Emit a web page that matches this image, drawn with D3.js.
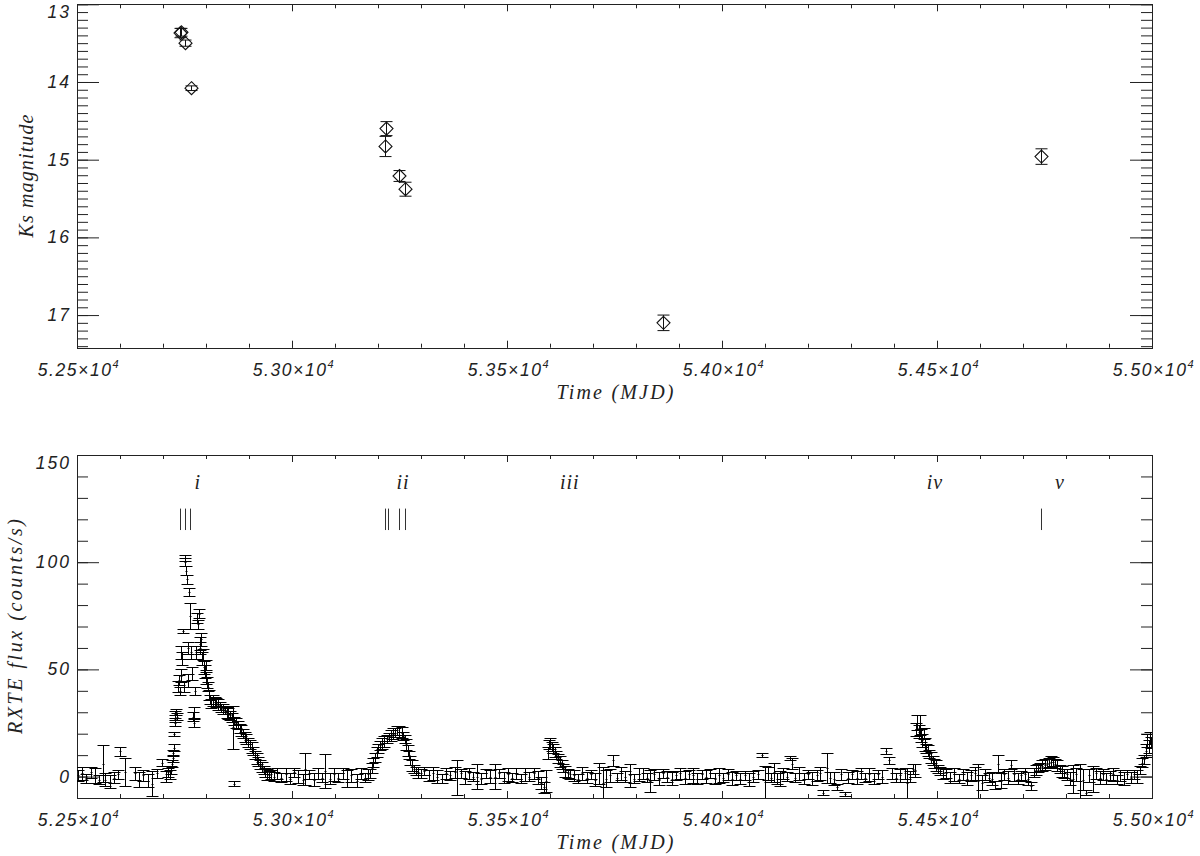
<!DOCTYPE html>
<html><head><meta charset="utf-8">
<script src="https://cdn.jsdelivr.net/npm/d3@7"></script>
<style>body{margin:0;background:#fff}svg{display:block}</style>
</head><body>
<svg id="c" width="1200" height="856"></svg>
<script>
// ---------------- data ----------------
const xDomain = [52500, 55000];
const xMajorTicks = [52500, 53000, 53500, 54000, 54500, 55000];
const xTickMantissa = ["5.25", "5.30", "5.35", "5.40", "5.45", "5.50"];
const xTickExponent = "4";

const ksDomain = [13, 17.42];
const ksMajorTicks = [13, 14, 15, 16, 17];
const fluxDomain = [-10, 150];
const fluxMajorTicks = [0, 50, 100, 150];

// Ks photometry (top panel)
const ksMjd = [52739, 52742, 52751, 52764, 53218, 53216, 53249, 53262, 53863, 54741];
const ksMag = [13.37, 13.36, 13.50, 14.08, 14.60, 14.83, 15.21, 15.38, 17.10, 14.96];
const ksErr = [0.06, 0.05, 0.04, 0.03, 0.09, 0.13, 0.07, 0.09, 0.10, 0.10];

// epochs of the IR observations marked in the lower panel
const epochMjd = [52740, 52750, 52763, 53216, 53224, 53249, 53263, 54741];
const epochFluxRange = [115, 125];

// outburst labels
const outburstNames = ["i", "ii", "iii", "iv", "v"];
const outburstMjd = [52781, 53258, 53646, 54495, 54786];
const outburstLabelFlux = 134;

// RXTE/ASM light curve (lower panel)
const rxteMjd = [
  // quiescence before outburst i
  52502,52512,52522,52532,52542,52552,52560,52566,52576,52586,52596,52600,52612,52634,52644,52654,52664,52674,52686,52698,52706,52712,
  // outburst i rise and peak
  52716,52719,52721,52723,52724,52725,52726,52727,52728,52729,52731,52733,52735,52737,52739,52741,52743,52745,52747,52749,
  52751,52752,52754,52755,52757,52759,52761,52763,52765,52767,52769,52771,52773,52775,52777,52779,52781,52783,52785,52787,
  52789,52791,52793,52795,52797,52799,52801,52803,52805,52807,52809,
  // outburst i decline
  52812,52816,52820,52824,52828,52832,52836,52840,52844,52848,52852,52856,52860,52862,52865,52866,52870,52874,52878,52882,
  52886,52890,52894,52898,52902,52906,52910,52914,52918,52922,52926,52930,52934,52938,52942,52947,52952,52958,
  // quiescence
  52965,52975,52985,52995,53005,53015,53025,53030,53040,53050,53060,53070,53077,53088,53098,53108,53118,53128,53138,53151,53160,53170,53177,
  // outburst ii
  53181,53185,53189,53193,53197,53201,53205,53210,53215,53220,53225,53230,53235,53240,53245,53250,53255,53259,53263,53266,
  53269,53272,53275,53279,53283,53288,53294,53300,
  // quiescence
  53308,53318,53328,53338,53348,53358,53368,53378,53384,53392,53402,53412,53422,53430,53440,53450,53460,53472,53482,53492,
  53502,53512,53522,53532,53542,53552,53562,53572,53580,53585,53590,
  // outburst iii
  53595,53598,53601,53604,53607,53611,53615,53619,53623,53627,53631,53636,53641,53647,
  // quiescence
  53655,53665,53675,53685,53695,53705,53713,53723,53730,53740,53747,53755,53765,53775,53786,53796,53806,53816,53826,53833,
  53843,53853,53863,53873,53883,53893,53903,53913,53923,53933,53943,53953,53963,53973,53983,53993,54003,54013,54023,54033,
  54043,54053,54063,54073,54083,
  54093,54100,54106,54113,54120,54128,54135,54142,54150,54158,54163,54170,54180,54190,54200,54210,54220,54228,54235,54244,
  54252,54260,54267,54276,54286,54293,54303,54313,54323,54333,54343,54353,54363,54373,54381,54388,54395,54405,54415,54425,
  54430,54438,54444,
  // outburst iv
  54448,54451,54454,54457,54460,54463,54466,54469,54472,54475,54478,54482,54486,54490,54494,54498,54503,54508,54514,
  // quiescence
  54522,54530,54540,54550,54560,54570,54580,54588,54596,54604,54612,54620,54628,54636,54642,54648,54656,54664,54672,54680,
  54688,54696,54704,54712,54718,
  // outburst v
  54725,54730,54735,54740,54745,54750,54755,54760,54765,54770,54775,54780,54785,54790,54795,
  // quiescence
  54803,54810,54816,54824,54833,54840,54847,54854,54862,54870,54878,54886,54894,54902,54910,54918,54926,54934,54942,54950,
  54958,54965,
  // final rise
  54972,54977,54982,54986,54989,54992,54995,54998
];
const rxteFlux = [
  0.5,1.5,-1,2,0.5,-1.5,6,-1.5,-2.5,-0.5,1,11.7,2.3,1.5,-1.5,0.5,-2,-3.3,1.5,6.5,0,2,
  1,3,6,8.5,11,13.5,20,25,29,27,30,28,42,45,40,47,58,55,68,42,
  100,102,96,92,60,45,86,75,58,48,28,25,30,40,58,74,71,76,62,60,
  64,55,57,51,49,52,46,44,42,38,36,
  34,35.5,35,34.5,33.5,33,32,31.5,31,30,29.5,28.5,27.5,23,-3.3,26,25,24,22.5,21.5,
  20,18.5,17.5,16,15,13.5,12,10,8.5,7,5.5,4.5,3,2,1,0.5,1,0,
  1.5,-0.5,1,-1,2,0,-1.5,3.5,1,-1.5,1.5,-0.5,2.5,-1,1,-0.5,1.5,-1,0.5,-2,1.5,-0.5,1,
  1.5,4,6.5,9,11.5,13,14.5,15.5,16.5,17.5,18.5,19,20,20.5,21.5,21,20.5,19,17.5,15,
  12,10,7.5,5,3.5,2.5,2,1.5,
  2.5,0.5,1.5,0,-1,1.5,0.5,2,-0.5,1.5,-0.5,1.5,0,0,-1,1.5,0,0,1.5,-0.5,
  1,-0.5,1.5,-1,1,0,1.5,-0.5,-3,-5,-2,
  11,15,15.5,14,13,11.5,10,8.5,7,5.5,4,2.5,1.5,1,
  0.5,-1,1.5,-0.5,1,-1.5,1.5,-3,-1,0.5,7.5,-0.5,1.5,0,0.5,-1,1,1.5,-0.5,-2,
  1,-1,1.5,0,-1,0.5,1.5,-0.5,1,0.5,-1,1,0,1.5,-1,0.5,-0.5,1,-1,0.5,
  -1,0.5,-1.5,0,1,
  10,-2.5,1.5,-0.5,2,-1,-1,1.5,0,8.5,6,-0.5,1.5,-1,1,-1,0.5,1.5,-7.5,4,
  -0.5,-1,-5,1,-8,-0.5,1,-0.5,1.5,-0.5,1,-1,1,0,12,7.5,1.5,-0.5,0.5,1.5,
  -3,0,3.5,
  3,22,25,21,24,19,17,20,15,13,12,10.5,9,7.5,6,5,3.5,2.5,1.5,
  1.5,-0.5,1,-1,1,-1,0.5,1.5,-2,-3,1,-0.5,-1,-4,6,-2,1,-0.5,5.5,1,
  -1,0.5,1,-1,-4.5,
  2,3,4,4.5,5,5.5,6,6.5,7,7,6,5,3.5,2.5,1.5,
  1,-1,-1,1,-2,-1.5,-7.5,0.5,-1,1.5,-0.5,1,-1,0.5,1,-1.5,0.5,-1,1,-0.5,
  1,0,
  3,6.5,8,12,17,14,18,16
];
const rxteErr = [
  2.5,3,2,2.5,3.5,2,8.5,3,3,2.5,2,2,6.5,3,3.5,2.5,3,6,2,1.5,2.5,2,
  2,2,1.5,1.5,1.5,1.5,1,1.5,1.5,1.5,1.5,1.5,2.5,2.5,2,3,3,3,1,2.5,
  2,1.5,2,2,3,3,2,6,3,3,2,2,2.5,2,3,2.5,2,2,3,3,
  3,3,2.5,3,3,2.5,3,2.5,2,2.5,2,
  2,2.5,2,2,2.5,2,2,2.5,2,2.5,2.5,2,2,10,1,2,2.5,2,2,2.5,
  2,2.5,2.5,2,2,2.5,2,2,2.5,2,2,2.5,2,2,2.5,2,2,2,
  2.5,2,3,2.5,2,3,2.5,7.5,2,3,2.5,2,8,2.5,3,2,2.5,4,3,3,2.5,2,2.5,
  2,2.5,2,2,2.5,2,2,2.5,2.5,2,2,2.5,2.5,2,2,2.5,2.5,2,2,2.5,
  2.5,2,2,2.5,2,2,2.5,2,
  2,2.5,3,3,2,2.5,2,2.5,8,2,3,2.5,2,6,2.5,2,3,6,2,2.5,
  3,2,2.5,2,3,2,2.5,3,3,2.5,5,
  3,2,2.5,2,2,2.5,2,2,2.5,2,2,2.5,2,2,
  2.5,2,3,2.5,2,3,5,7.5,4,3,2.5,2,3,2.5,5.5,2,3,2.5,2,5,
  2.5,3,2,2.5,3,2,2.5,3,2,3.5,2.5,2,3,2,2.5,3.5,2,2.5,3,2,
  2.5,2,3,2.5,2,
  1,7.5,3,2,4.5,2.5,3.5,2.5,2,1,2.5,2,3,2.5,2,3,2.5,3,1,7,
  2.5,3,1.5,2.5,1,2.5,2,3,2.5,2,3,2.5,2,3,1.5,1.5,2.5,2,3,2.5,
  7,2.5,2.5,
  3,3,3.5,3,4.5,3,3,2.5,3,2,2.5,2,2.5,2,2,2.5,2,2,2.5,
  2,2.5,3,2,2.5,3,2.5,3,8,3.5,2.5,2,3,2,4,3.5,2.5,3,2,3,
  2.5,2,3,3,2,
  2,2.5,2,2,2.5,2.5,2,2,2.5,2,2,2.5,2,2.5,2,
  2.5,3,6.5,3,8,5,1,3,6,2.5,3,2.5,2.5,2,3,2,2.5,3,2,2.5,
  2,3,
  2,2,2,3,3,3,3,2.5
];

// ---------------- layout ----------------
const L = 77, R = 1152;
const P1 = {t: 4.3, b: 347.7};
const P2 = {t: 455, b: 798};
const ink = "#222";

const svg = d3.select("#c");
svg.append("rect").attr("width", 1200).attr("height", 856).attr("fill", "#fff");

const x = d3.scaleLinear().domain(xDomain).range([L, R]);
const yK = d3.scaleLinear().domain(ksDomain).range([P1.t, P1.b]);
const yF = d3.scaleLinear().domain(fluxDomain).range([P2.b, P2.t]);

const xMinor = d3.range(xDomain[0], xDomain[1] + 1, 100);
const ksMinor = d3.range(130, 175, 1).map(v => v / 10);
const fluxMinor = d3.range(-10, 151, 10);

const tickFont = "'Liberation Sans', Arial, sans-serif";
const titleFont = "'Liberation Serif', 'Times New Roman', serif";

function strip(g) { g.select(".domain").remove(); g.selectAll(".tick line").attr("stroke", ink); }

function frame(y, P, yMajor, yMinor) {
  const g = svg.append("g");
  g.append("g").attr("transform", `translate(0,${P.b})`).call(d3.axisBottom(x).tickValues(xMinor).tickSize(-4).tickFormat("")).call(strip);
  g.append("g").attr("transform", `translate(0,${P.b})`).call(d3.axisBottom(x).tickValues(xMajorTicks).tickSize(-7).tickFormat("")).call(strip);
  g.append("g").attr("transform", `translate(0,${P.t})`).call(d3.axisTop(x).tickValues(xMinor).tickSize(-4).tickFormat("")).call(strip);
  g.append("g").attr("transform", `translate(0,${P.t})`).call(d3.axisTop(x).tickValues(xMajorTicks).tickSize(-7).tickFormat("")).call(strip);
  g.append("g").attr("transform", `translate(${L},0)`).call(d3.axisLeft(y).tickValues(yMinor).tickSize(-11).tickFormat("")).call(strip);
  g.append("g").attr("transform", `translate(${L},0)`).call(d3.axisLeft(y).tickValues(yMajor).tickSize(-22).tickFormat("")).call(strip);
  g.append("g").attr("transform", `translate(${R},0)`).call(d3.axisRight(y).tickValues(yMinor).tickSize(-11).tickFormat("")).call(strip);
  g.append("g").attr("transform", `translate(${R},0)`).call(d3.axisRight(y).tickValues(yMajor).tickSize(-22).tickFormat("")).call(strip);
  g.append("rect").attr("x", L + 0.5).attr("y", Math.round(P.t) + 0.5)
    .attr("width", R - L).attr("height", Math.round(P.b) - Math.round(P.t))
    .attr("fill", "none").attr("stroke", ink).attr("stroke-width", 1);

  // y tick labels
  g.selectAll(".ylab").data(yMajor).join("text")
    .attr("x", L - 6)
    .attr("y", d => Math.max(y(d), P.t + 7.5))
    .attr("text-anchor", "end").attr("dominant-baseline", "central")
    .attr("font-family", tickFont).attr("font-style", "italic").attr("font-size", 17.5)
    .attr("letter-spacing", 2).attr("fill", ink)
    .text(d => d);

  // x tick labels  m.mm×10^4
  const xl = g.selectAll(".xlab").data(xMajorTicks).join("text")
    .attr("x", d => x(d) + 2).attr("y", P.b + 28)
    .attr("text-anchor", "middle")
    .attr("font-family", tickFont).attr("font-style", "italic").attr("font-size", 17.5)
    .attr("letter-spacing", 1.6).attr("fill", ink);
  xl.append("tspan").text((d, i) => xTickMantissa[i] + "\u00d710");
  xl.append("tspan").attr("dy", -8).attr("font-size", 11).text(xTickExponent);

  // x title
  g.append("text").attr("x", 615).attr("y", P.b + 51)
    .attr("text-anchor", "middle").attr("font-family", titleFont).attr("font-style", "italic")
    .attr("font-size", 20).attr("textLength", 117).attr("lengthAdjust", "spacing").attr("fill", ink)
    .text("Time (MJD)");
  return g;
}

// ---------------- top panel ----------------
frame(yK, P1, ksMajorTicks, ksMinor);
svg.append("text")
  .attr("transform", `translate(33,${(P1.t + P1.b) / 2}) rotate(-90)`)
  .attr("text-anchor", "middle").attr("font-family", titleFont).attr("font-style", "italic")
  .attr("font-size", 20).attr("textLength", 123).attr("lengthAdjust", "spacing").attr("fill", ink)
  .text("Ks magnitude");

const gK = svg.append("g");
ksMjd.forEach((m, i) => {
  const cx = Math.round(x(m)) + 0.5, cy = yK(ksMag[i]);
  const y1 = yK(ksMag[i] - ksErr[i]), y2 = yK(ksMag[i] + ksErr[i]);
  gK.append("path")
    .attr("d", `M${cx},${y1}V${y2}M${cx - 6},${y1}H${cx + 6}M${cx - 6},${y2}H${cx + 6}`)
    .attr("stroke", "#111").attr("fill", "none").attr("stroke-width", 1);
  gK.append("path")
    .attr("d", `M${cx},${cy - 6.5}L${cx + 6.5},${cy}L${cx},${cy + 6.5}L${cx - 6.5},${cy}Z`)
    .attr("stroke", "#111").attr("fill", "none").attr("stroke-width", 1.1);
});

// ---------------- bottom panel ----------------
frame(yF, P2, fluxMajorTicks, fluxMinor);
svg.append("text")
  .attr("transform", `translate(22,${(P2.t + P2.b) / 2}) rotate(-90)`)
  .attr("text-anchor", "middle").attr("font-family", titleFont).attr("font-style", "italic")
  .attr("font-size", 20).attr("textLength", 215).attr("lengthAdjust", "spacing").attr("fill", ink)
  .text("RXTE flux (counts/s)");

svg.append("clipPath").attr("id", "clip2").append("rect")
  .attr("x", L).attr("y", P2.t).attr("width", R - L).attr("height", P2.b - P2.t);

const gF = svg.append("g").attr("clip-path", "url(#clip2)");
let d = "";
rxteMjd.forEach((m, i) => {
  const cx = Math.round(x(m)) + 0.5;
  const y1 = Math.round(yF(rxteFlux[i] - rxteErr[i])) + 0.5;
  const y2 = Math.round(yF(rxteFlux[i] + rxteErr[i])) + 0.5;
  const yc = Math.round(yF(rxteFlux[i])) + 0.5;
  d += `M${cx},${y1}V${y2}M${cx - 6},${y1}H${cx + 6}M${cx - 6},${y2}H${cx + 6}M${cx - 1},${yc}H${cx + 1}`;
});
gF.append("path").attr("d", d).attr("stroke", "#000").attr("stroke-width", 1)
  .attr("fill", "none");

// epoch markers
svg.append("g").selectAll("line").data(epochMjd).join("line")
  .attr("x1", m => Math.round(x(m)) + 0.5).attr("x2", m => Math.round(x(m)) + 0.5)
  .attr("y1", yF(epochFluxRange[0])).attr("y2", yF(epochFluxRange[1]))
  .attr("stroke", "#333").attr("stroke-width", 1);

// outburst labels
svg.append("g").selectAll("text").data(outburstNames).join("text")
  .attr("x", (n, i) => x(outburstMjd[i])).attr("y", yF(outburstLabelFlux))
  .attr("text-anchor", "middle").attr("font-family", titleFont).attr("font-style", "italic")
  .attr("font-size", 20).attr("letter-spacing", 1).attr("fill", ink)
  .text(n => n);
</script>
</body></html>
